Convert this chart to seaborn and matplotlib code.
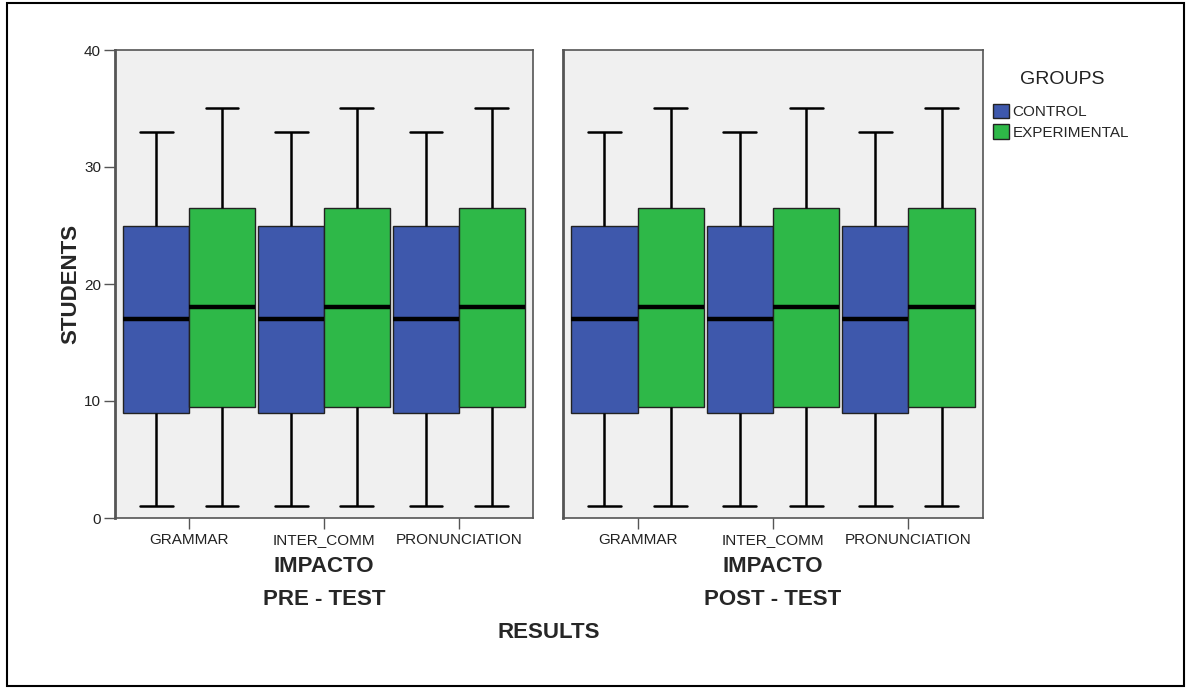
import matplotlib
matplotlib.use("Agg")
import matplotlib.pyplot as plt
import matplotlib.patches as mpatches
import pandas as pd
import seaborn as sns

# --------- Datos ---------

aspects = ["GRAMMAR", "INTER_COMM", "PRONUNCIATION"]
groups = ["CONTROL", "EXPERIMENTAL"]
tests = ["PRE - TEST", "POST - TEST"]

# resumen de cinco números: mínimo, Q1, mediana, Q3, máximo
pre_control = [1, 9, 17, 25, 33]
pre_experimental = [1, 9.5, 18, 26.5, 35]
post_control = [1, 9, 17, 25, 33]
post_experimental = [1, 9.5, 18, 26.5, 35]

group_colors = ["#3E58AC", "#2EB848"]

rows = []
for test, ctrl, expe in zip(tests, [pre_control, post_control], [pre_experimental, post_experimental]):
    for aspect in aspects:
        for group, vals in zip(groups, [ctrl, expe]):
            for v in vals:
                rows.append({"test": test, "aspect": aspect, "group": group, "students": v})
df = pd.DataFrame(rows)

# --------- Figura ---------

sns.set_style("white")
plt.rcParams["font.family"] = ["Liberation Sans", "DejaVu Sans"]

W, H = 1189, 689
fig = plt.figure(figsize=(W / 100, H / 100), dpi=100)
ax1 = fig.add_axes([115 / W, 1 - 518 / H, 418 / W, 468 / H])
ax2 = fig.add_axes([563 / W, 1 - 518 / H, 420 / W, 468 / H])

for ax, test in zip([ax1, ax2], tests):
    sub = df[df["test"] == test]
    sns.boxplot(
        data=sub,
        x="aspect",
        y="students",
        hue="group",
        order=aspects,
        hue_order=groups,
        palette=group_colors,
        saturation=1,
        width=0.975,
        gap=0,
        linecolor="#222222",
        linewidth=1,
        medianprops=dict(color="black", linewidth=3.2),
        whiskerprops=dict(color="black", linewidth=1.8),
        capprops=dict(color="black", linewidth=1.8),
        legend=False,
        ax=ax,
    )
    ax.set_facecolor("#F0F0F0")
    ax.set_ylim(0, 40)
    ax.set_xlim(-0.55, 2.55)
    ax.set_yticks([0, 10, 20, 30, 40])
    for side, spine in ax.spines.items():
        spine.set_visible(True)
        spine.set_color("#555555")
        spine.set_linewidth(1.2)
    ax.spines["left"].set_linewidth(2)
    ax.tick_params(axis="x", bottom=True, length=8, width=1, color="#555555",
                   labelsize=11, pad=3, labelcolor="#222222")
    ax.set_xlabel("IMPACTO\n" + test, fontsize=16, fontweight="bold", linespacing=1.8, labelpad=6)

ax1.tick_params(axis="y", left=True, length=8, width=1, color="#555555", labelsize=11, pad=2,
                labelcolor="#222222")
ax1.set_ylabel("STUDENTS", fontsize=16, fontweight="bold", labelpad=2)
ax2.set_ylabel("")
ax2.tick_params(axis="y", left=False, labelleft=False)

fig.text(549 / W, 1 - 632 / H, "RESULTS", ha="center", va="center", fontsize=16, fontweight="bold")

fig.text(1062 / W, 1 - 79 / H, "GROUPS", ha="center", va="center", fontsize=14, color="#222222")
handles = [mpatches.Patch(facecolor=c, edgecolor="#222222", linewidth=1) for c in group_colors]
fig.legend(
    handles,
    groups,
    loc="upper left",
    bbox_to_anchor=(985 / W, 1 - 96 / H),
    frameon=False,
    fontsize=11,
    handlelength=1.1,
    handleheight=1.1,
    handletextpad=0.2,
    labelspacing=0.34,
    borderpad=0,
)

fig.add_artist(mpatches.Rectangle((7 / W, 3 / H), 1177 / W, 683 / H, transform=fig.transFigure,
                                  fill=False, edgecolor="black", linewidth=1.5))

fig.savefig("out.png", dpi=100)
